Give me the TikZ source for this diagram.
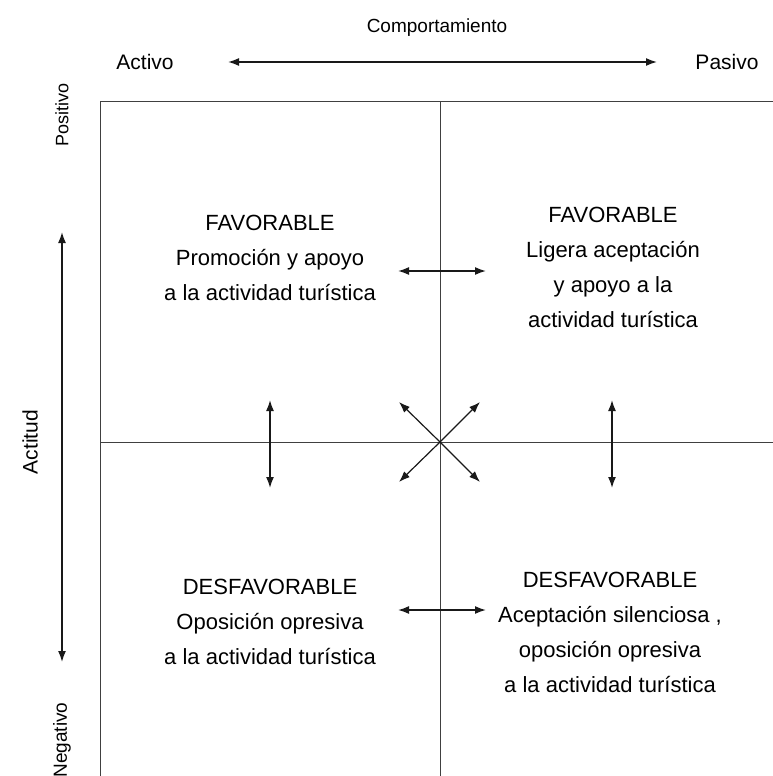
\documentclass[tikz,border=0pt]{standalone}
\usepackage{fontspec}
\setmainfont{Liberation Sans}
\usetikzlibrary{arrows.meta}
\usetikzlibrary{positioning}

\tikzset{
  grid/.style={draw=black!75, line width=0.9pt},
  dbl/.style={{Latex[length=11pt,width=8pt]}-{Latex[length=11pt,width=8pt]}, line width=1.6pt, black!90},
  quad/.style={align=center, font=\fontsize{22}{35}\selectfont},
  lbl/.style={font=\fontsize{19}{22}\selectfont},
}

\begin{document}
\begin{tikzpicture}[x=1pt,y=-1pt]
  \useasboundingbox (0,0) rectangle (773,776);

  % frame
  \coordinate (tl) at (100,101);
  \coordinate (tr) at (773,101);
  \coordinate (bl) at (100,776);
  \coordinate (ct) at (440,101);
  \coordinate (cb) at (440,776);
  \coordinate (ml) at (100,442);
  \coordinate (mr) at (773,442);
  \coordinate (c) at (440,442);
  \draw[grid] (bl) -- (tl) -- (tr);
  \draw[grid] (ct) -- (cb);
  \draw[grid] (ml) -- (mr);

  % axes
  \node[lbl] (comp) at (437,28) {Comportamiento};
  \node[lbl, font=\fontsize{21}{24}\selectfont] (act) at (145,62) {Activo};
  \node[lbl, font=\fontsize{21}{24}\selectfont] (pas) at (727,62) {Pasivo};
  \coordinate (ha) at (228,62);
  \coordinate (hb) at (657,62);
  \draw[dbl] (ha) -- (hb);

  \node[lbl, rotate=90, font=\fontsize{18}{20}\selectfont] (pos) at (62,115) {Positivo};
  \node[lbl, rotate=90] (neg) at (62,740) {Negativo};
  \node[lbl, rotate=90, font=\fontsize{21}{24}\selectfont] (acti) at (30,442) {Actitud};
  \coordinate (va) at (62,232);
  \coordinate (vb) at (62,662);
  \draw[dbl] (va) -- (vb);

  % quadrants
  \node[quad] (q1) at (270,258) {FAVORABLE\\Promoción y apoyo\\a la actividad turística};
  \node[quad] (q2) at (613,267) {FAVORABLE\\Ligera aceptación\\y apoyo a la\\actividad turística};
  \node[quad] (q3) at (270,622) {DESFAVORABLE\\Oposición opresiva\\a la actividad turística};
  \node[quad] (q4) at (610,632) {DESFAVORABLE\\Aceptación silenciosa ,\\oposición opresiva\\a la actividad turística};

  % arrows between quadrants
  \coordinate (a1) at (398,271);
  \coordinate (a2) at (486,271);
  \draw[dbl] (a1) -- (a2);
  \coordinate (b1) at (398,610);
  \coordinate (b2) at (486,610);
  \draw[dbl] (b1) -- (b2);
  \coordinate (l1) at (270,400);
  \coordinate (l2) at (270,488);
  \draw[dbl] (l1) -- (l2);
  \coordinate (r1) at (612,400);
  \coordinate (r2) at (612,488);
  \draw[dbl] (r1) -- (r2);

  % diagonals
  \coordinate (d1) at (399,402);
  \coordinate (d2) at (480,402);
  \coordinate (d3) at (399,482);
  \coordinate (d4) at (480,482);
  \foreach \p in {d1,d2,d3,d4}
    \draw[-{Latex[length=11pt,width=8pt]}, line width=1.2pt, black!90] (c) -- (\p);
\end{tikzpicture}
\end{document}
